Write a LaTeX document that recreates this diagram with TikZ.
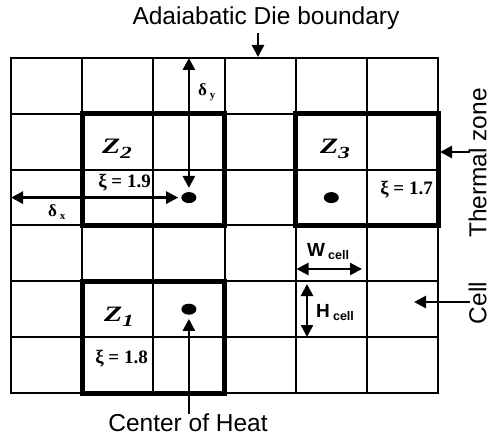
\documentclass[tikz,border=0pt]{standalone}
\usepackage{fontspec}
\usepackage{graphicx}
\setmainfont{Liberation Serif}
\setsansfont{Liberation Sans}
\usetikzlibrary{arrows.meta,shapes.geometric}
\newcommand{\zlab}[1]{\scalebox{1.35}[1]{\fontsize{22}{22}\selectfont\bfseries\itshape Z\raisebox{-4.5pt}{\fontsize{17}{17}\selectfont #1}}}
\begin{document}
\begin{tikzpicture}[x=1pt,y=-1pt,
  gridline/.style={line width=2pt},
  zonebox/.style={line width=5pt},
  tip/.tip={Triangle[length=12pt,width=12pt]},
  arr/.style={line width=2.6pt,-tip},
  darr/.style={line width=2.6pt,tip-tip},
  heatdot/.style={ellipse,fill=black,minimum width=15pt,minimum height=11pt,inner sep=0pt},
  callout/.style={font=\sffamily\fontsize{24.5}{24.5}\selectfont,inner sep=0pt},
  xilabel/.style={font=\bfseries\fontsize{19}{19}\selectfont,inner sep=0pt},
  dlabel/.style={font=\bfseries\fontsize{17}{17}\selectfont,inner sep=0pt},
  clabel/.style={font=\sffamily\bfseries\fontsize{19}{19}\selectfont,inner sep=0pt},
  zl/.style={inner sep=0pt,anchor=base west}
]
\useasboundingbox (0,0) rectangle (491,436);
\fill[white] (0,0) rectangle (491,436);

% grid of cells
\draw[gridline] (11,58) rectangle (438,393);
\foreach \i in {1,...,5} {
  \draw[gridline] ({11+71.17*\i},58) -- ({11+71.17*\i},393);
  \draw[gridline] (11,{58+55.83*\i}) -- (438,{58+55.83*\i});
}

% thermal zones
\draw[zonebox] (82.17,113.83) rectangle (224.34,225.5);
\draw[zonebox] (295.68,113.83) rectangle (438,225.5);
\draw[zonebox] (82.17,281.3) rectangle (224.34,393);

% centers of heat
\node[heatdot] (c2) at (188.9,197.6) {};
\node[heatdot] (c3) at (331.3,197.6) {};
\node[heatdot] (c1) at (188.9,309.2) {};

% zone labels
\node[zl] (z2) at (102,154) {\zlab{2}};
\node[zl] (z3) at (320,154) {\zlab{3}};
\node[zl] (z1) at (104,321.5) {\zlab{1}};

\node[xilabel,anchor=base east] (x2) at (151,188) {ξ = 1.9};
\node[xilabel,anchor=base east] (x3) at (433,195) {ξ = 1.7};
\node[xilabel,anchor=base east] (x1) at (148,363) {ξ = 1.8};

% delta y / delta x
\coordinate (dytop) at (188.9,58);
\draw[darr,shorten >=4pt] (dytop) -- (c2.north);
\node[dlabel,anchor=base west] (dy) at (198,96) {δ\,\raisebox{-2pt}{\fontsize{11}{11}\selectfont y}};
\coordinate (dxleft) at (11,197.6);
\draw[darr,shorten >=3pt] (dxleft) -- (c2.west);
\node[dlabel,anchor=base west] (dx) at (48,217) {δ\,\raisebox{-2pt}{\fontsize{11}{11}\selectfont x}};

% cell dimensions
\coordinate (wl) at (296.5,269);
\coordinate (wr) at (362,269);
\draw[darr] (wl) -- (wr);
\node[clabel,anchor=base] (wc) at (328,256) {W\,\raisebox{-3pt}{\fontsize{12.5}{12.5}\selectfont cell}};
\coordinate (ht) at (307,284);
\coordinate (hb) at (307,337);
\draw[darr] (ht) -- (hb);
\node[clabel,anchor=base west] (hc) at (316,317) {H\,\raisebox{-3pt}{\fontsize{12.5}{12.5}\selectfont cell}};

% callouts
\node[callout] (adb) at (266,18) {Adaiabatic Die boundary};
\coordinate (adbtail) at (258,33);
\coordinate (adbtip) at (258,57);
\draw[arr] (adbtail) -- (adbtip);

\node[callout,rotate=90] (tz) at (477.5,163) {Thermal zone};
\coordinate (tztail) at (470,152);
\coordinate (tztip) at (440,152);
\draw[arr] (tztail) -- (tztip);

\node[callout,rotate=90] (cell) at (477.5,303) {Cell};
\coordinate (celltail) at (470,302);
\coordinate (celltip) at (414,302);
\draw[arr] (celltail) -- (celltip);

\node[callout] (coh) at (188,423) {Center of Heat};
\draw[arr,shorten >=4pt] (coh.north -| c1) -- (c1.south);
\end{tikzpicture}
\end{document}
